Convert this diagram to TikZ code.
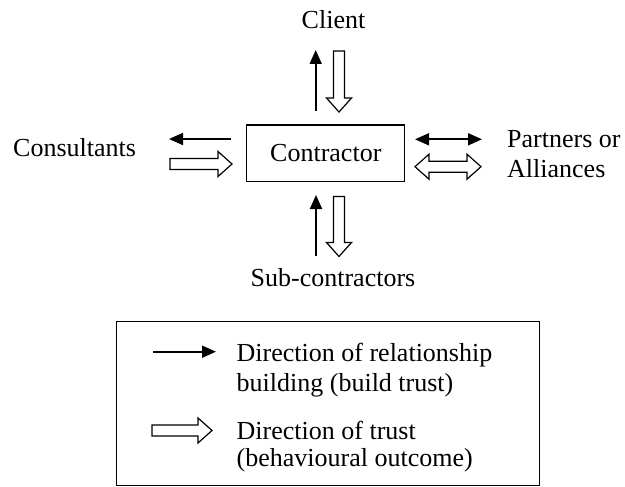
\documentclass[tikz,border=0pt]{standalone}
\usepackage{fontspec}
\setmainfont{Liberation Serif}
\usetikzlibrary{arrows.meta}

\tikzset{
  build/.style={line width=1.8pt, -{Triangle[length=14pt,width=12pt]}},
  buildboth/.style={line width=1.8pt, {Triangle[length=14pt,width=12pt]}-{Triangle[length=14pt,width=12pt]}},
  outline/.style={draw=black, line width=1.2pt, fill=white, line join=miter},
  label/.style={inner sep=0pt, font=\fontsize{26}{29}\selectfont},
  % hollow arrow of length #1 pointing along the local x axis
  trustarrow/.pic={
    \draw[outline] (0,-5.5) -- ({#1-14},-5.5) -- ({#1-14},-12.5) -- (#1,0)
      -- ({#1-14},12.5) -- ({#1-14},5.5) -- (0,5.5) -- cycle;
  },
  % hollow arrow with heads at both ends
  trustboth/.pic={
    \draw[outline] (0,0) -- (14,-12.5) -- (14,-5.5) -- ({#1-14},-5.5)
      -- ({#1-14},-12.5) -- (#1,0) -- ({#1-14},12.5) -- ({#1-14},5.5)
      -- (14,5.5) -- (14,12.5) -- cycle;
  },
}

\begin{document}
\begin{tikzpicture}[x=1pt, y=-1pt]
\useasboundingbox (0,0) rectangle (625,487);

% central party
\node[draw, line width=1.3pt, minimum width=158pt, minimum height=56.5pt,
      label] (contractor) at (325.8,153.3) {Contractor};

% surrounding parties
\node[label, anchor=base] (client) at (333.5,29) {Client};
\node[label, anchor=base west] (consultants) at (13,156.5) {Consultants};
\node[label, anchor=base west] (partners1) at (507,148) {Partners or};
\node[label, anchor=base west] (partners2) at (507,178) {Alliances};
\node[label, anchor=base] (subs) at (333,286.5) {Sub-contractors};

% end points of the relationship-building arrows
\coordinate (cuA) at (315.7,111);
\coordinate (cuB) at (315.7,50);
\coordinate (clA) at (231,139);
\coordinate (clB) at (169,139);
\coordinate (crA) at (415,139.3);
\coordinate (crB) at (482,139.3);
\coordinate (cdA) at (316,256);
\coordinate (cdB) at (316,195);

\draw[build] (cuA) -- (cuB);
\draw[build] (clA) -- (clB);
\draw[buildboth] (crA) -- (crB);
\draw[build] (cdA) -- (cdB);

% direction of trust
\pic[rotate=-90] at (339,51) {trustarrow=61};
\pic at (170,164) {trustarrow=62};
\pic at (415,166.7) {trustboth=66};
\pic[rotate=-90] at (339,196.5) {trustarrow=60};

% key
\node[draw, line width=1.2pt, minimum width=422.6pt, minimum height=163.8pt,
      inner sep=0pt] (key) at (328,403.6) {};

\coordinate (kA) at (153,351.7);
\coordinate (kB) at (216,351.7);
\draw[build] (kA) -- (kB);
\node[label, anchor=base west] (k1) at (236.5,361.7) {Direction of relationship};
\node[label, anchor=base west] (k2) at (236.5,391.5) {building (build trust)};

\pic at (152,430.5) {trustarrow=60};
\node[label, anchor=base west] (k3) at (236.5,439) {Direction of trust};
\node[label, anchor=base west] (k4) at (236.5,466.5) {(behavioural outcome)};
\end{tikzpicture}
\end{document}
